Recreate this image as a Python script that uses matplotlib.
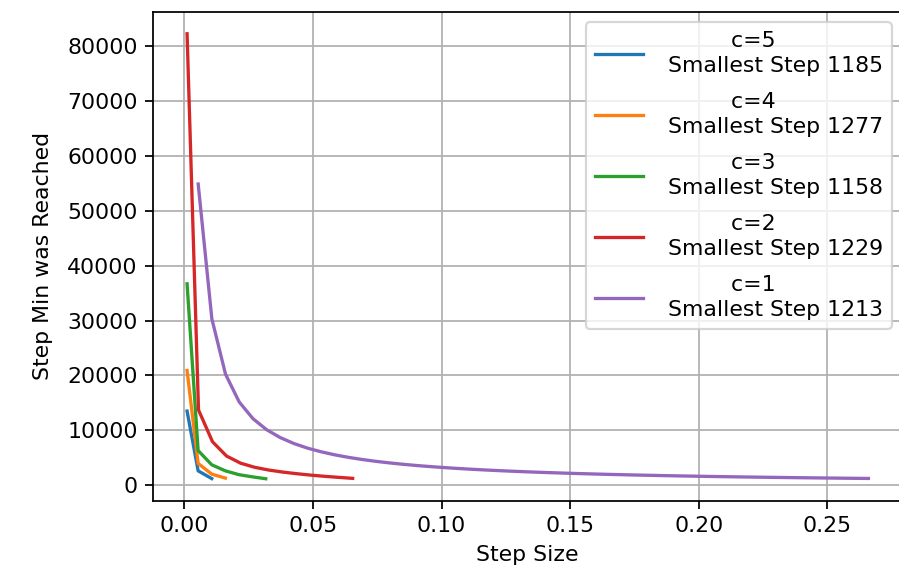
import matplotlib
matplotlib.use("Agg")
import matplotlib.pyplot as plt

# Step sizes and the step at which the minimum was reached, one series per c
c_values = [5, 4, 3, 2, 1]
smallest_steps = [1185, 1277, 1158, 1229, 1213]

h_c5 = [0.001, 0.0053, 0.0106]
steps_c5 = [13500, 2600, 1185]

h_c4 = [0.001, 0.0053, 0.0106, 0.0159]
steps_c4 = [20900, 3950, 2000, 1277]

h_c3 = [0.001, 0.0053, 0.0106, 0.0159, 0.0212, 0.0265, 0.0316]
steps_c3 = [36700, 6300, 3700, 2600, 1900, 1500, 1158]

h_c2 = [0.001, 0.00545, 0.0109, 0.01635, 0.0218, 0.02725, 0.0327,
        0.03815, 0.0436, 0.04905, 0.0545, 0.05995, 0.0654]
steps_c2 = [82300, 13700, 7900, 5300, 4000, 3250, 2750,
            2380, 2080, 1820, 1600, 1410, 1229]

h_c1 = [0.00532, 0.01064, 0.01596, 0.02128, 0.0266, 0.03192, 0.03724,
        0.04256, 0.04788, 0.0532, 0.05852, 0.06384, 0.06916, 0.07448,
        0.0798, 0.08512, 0.09044, 0.09576, 0.10108, 0.1064, 0.11172,
        0.11704, 0.12236, 0.12768, 0.133, 0.13832, 0.14364, 0.14896,
        0.15428, 0.1596, 0.16492, 0.17024, 0.17556, 0.18088, 0.1862,
        0.19152, 0.19684, 0.20216, 0.20748, 0.2128, 0.21812, 0.22344,
        0.22876, 0.23408, 0.2394, 0.24472, 0.25004, 0.25536, 0.26068,
        0.266]
steps_c1 = [54900, 30320, 20213, 15160, 12128, 10107, 8663, 7580, 6738,
            6064, 5513, 5053, 4665, 4331, 4043, 3790, 3567, 3369, 3192,
            3032, 2888, 2756, 2637, 2527, 2426, 2332, 2246, 2166, 2091,
            2021, 1956, 1895, 1838, 1784, 1733, 1684, 1639, 1596, 1555,
            1516, 1479, 1444, 1410, 1378, 1348, 1318, 1290, 1263, 1238,
            1213]

series_h = [h_c5, h_c4, h_c3, h_c2, h_c1]
series_steps = [steps_c5, steps_c4, steps_c3, steps_c2, steps_c1]

DPI = 158
W, H = 899, 578
fig = plt.figure(figsize=(W / DPI, H / DPI), dpi=DPI)
ax = fig.add_axes([153 / W, 1 - 501 / H, 749.5 / W, 489.5 / H])

for c, s_min, h, s in zip(c_values, smallest_steps, series_h, series_steps):
    ax.plot(h, s, label=f"          c={c}\n Smallest Step {s_min}")

ax.set_xlabel("Step Size")
ax.set_ylabel("Step Min was Reached", labelpad=6.5)
ax.grid(True)
leg = ax.legend(loc="upper right", labelspacing=0.74, borderpad=0.4,
                handlelength=2.2)
for t in leg.get_texts():
    t.set_multialignment("left")
    t.set_linespacing(1.3)

fig.savefig("out.png", dpi=DPI)
